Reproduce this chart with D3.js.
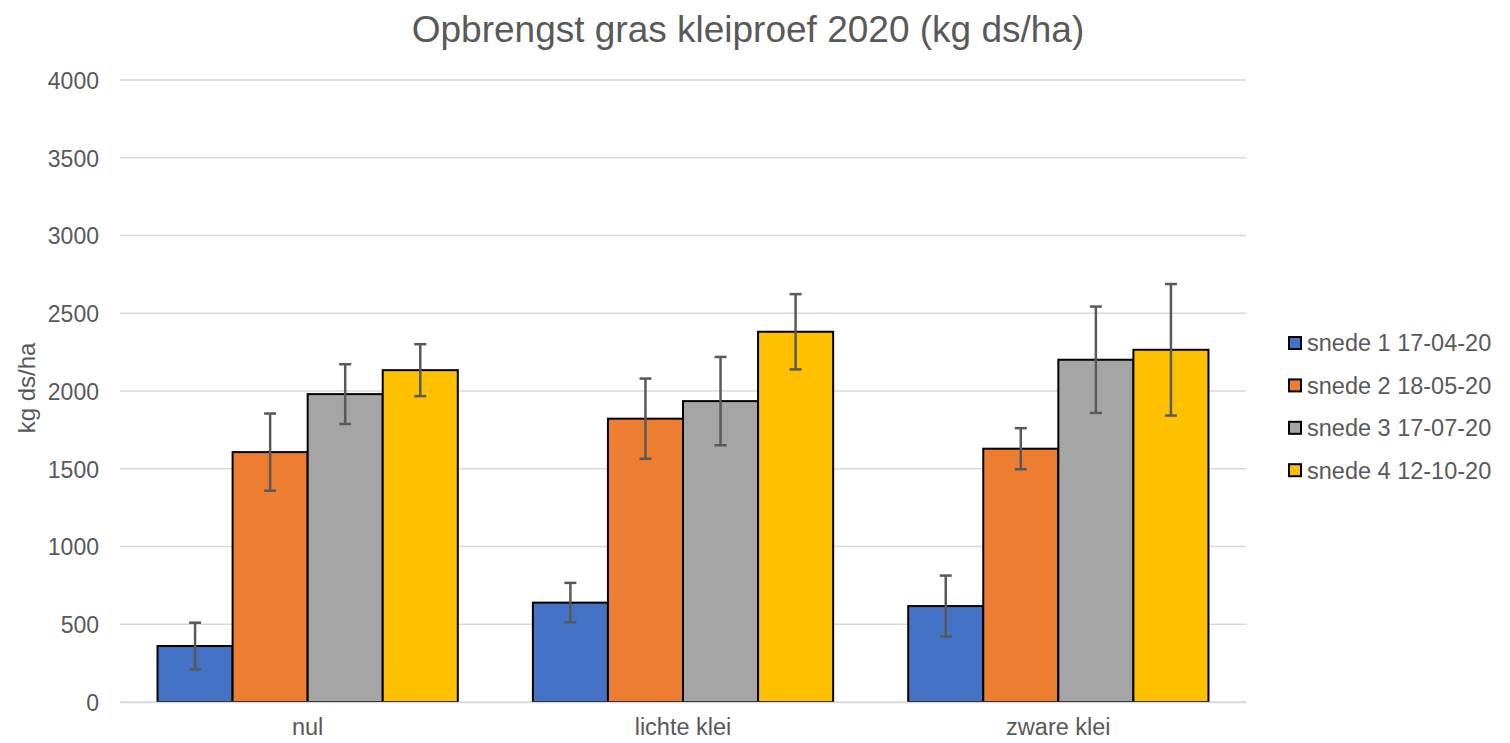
<!DOCTYPE html>
<html>
<head>
<meta charset="utf-8">
<script src="https://cdn.jsdelivr.net/npm/d3@7"></script>
<style>
  html, body { margin: 0; padding: 0; background: #fff; }
  svg { display: block; font-family: "Liberation Sans", Arial, sans-serif; }
</style>
</head>
<body>
<svg id="chart" width="1510" height="743"></svg>
<script>
const categories = ["nul", "lichte klei", "zware klei"];
const seriesNames = ["snede 1 17-04-20", "snede 2 18-05-20", "snede 3 17-07-20", "snede 4 12-10-20"];
const snede1 = [360, 639, 617];
const snede2 = [1607, 1822, 1629];
const snede3 = [1980, 1935, 2201];
const snede4 = [2134, 2381, 2265];
const err1 = [150, 127, 196];
const err2 = [248, 258, 132];
const err3 = [192, 284, 342];
const err4 = [167, 242, 423];
const yTicks = [0, 500, 1000, 1500, 2000, 2500, 3000, 3500, 4000];
const colors = ["#4472C4", "#ED7D31", "#A5A5A5", "#FFC000"];
const titleText = "Opbrengst gras kleiproef 2020 (kg ds/ha)";
const yTitle = "kg ds/ha";

(function () {
const values = [snede1, snede2, snede3, snede4];
const errors = [err1, err2, err3, err4];
const data = [];
categories.forEach((c, ci) => {
  seriesNames.forEach((s, si) => {
    data.push({cat: c, series: s, value: values[si][ci], err: errors[si][ci], color: colors[si]});
  });
});

const svg = d3.select("#chart");
const pL = 120, pR = 1246, pT = 80, pB = 702;

const x0 = d3.scaleBand().domain(categories).range([pL, pR]).paddingInner(0).paddingOuter(0);
const x1 = d3.scaleBand().domain(seriesNames).range([0, x0.bandwidth()]).paddingInner(0).paddingOuter(0.5);
const y = d3.scaleLinear().domain([0, 4000]).range([pB, pT]);

// gridlines
svg.append("g")
  .selectAll("line").data(yTicks).join("line")
  .attr("x1", pL).attr("x2", pR)
  .attr("y1", d => y(d)).attr("y2", d => y(d))
  .attr("stroke", "#D9D9D9").attr("stroke-width", 1.5);

// y axis labels
const yAxis = d3.axisLeft(y).tickValues(yTicks).tickFormat(d3.format("d")).tickSize(0).tickPadding(0);
const yg = svg.append("g").attr("transform", `translate(${pL - 21},0)`).call(yAxis);
yg.select(".domain").remove();
yg.selectAll("text").attr("fill", "#595959").attr("font-size", 23)
  .attr("font-family", "Liberation Sans, Arial, sans-serif").attr("dy", "0.36em");

// bars
svg.append("g").selectAll("rect").data(data).join("rect")
  .attr("x", d => x0(d.cat) + x1(d.series))
  .attr("y", d => y(d.value))
  .attr("width", x1.bandwidth())
  .attr("height", d => y(0) - y(d.value))
  .attr("fill", d => d.color)
  .attr("stroke", "#000").attr("stroke-width", 2);

// error bars
const eg = svg.append("g").attr("stroke", "#595959").attr("stroke-width", 2.5).attr("fill", "none");
const cx = d => x0(d.cat) + x1(d.series) + x1.bandwidth() / 2;
eg.selectAll("line.v").data(data).join("line").attr("class", "v")
  .attr("x1", cx).attr("x2", cx)
  .attr("y1", d => y(d.value + d.err)).attr("y2", d => y(d.value - d.err));
eg.selectAll("line.t").data(data).join("line").attr("class", "t")
  .attr("x1", d => cx(d) - 6).attr("x2", d => cx(d) + 6)
  .attr("y1", d => y(d.value + d.err)).attr("y2", d => y(d.value + d.err));
eg.selectAll("line.b").data(data).join("line").attr("class", "b")
  .attr("x1", d => cx(d) - 6).attr("x2", d => cx(d) + 6)
  .attr("y1", d => y(d.value - d.err)).attr("y2", d => y(d.value - d.err));

// x axis
const xAxis = d3.axisBottom(x0).tickSize(0).tickPadding(0);
const xg = svg.append("g").attr("transform", `translate(0,${pB})`).call(xAxis);
xg.select(".domain").attr("stroke", "#D9D9D9").attr("stroke-width", 1.5);
xg.selectAll("text").attr("fill", "#595959").attr("font-size", 23.5)
  .attr("font-family", "Liberation Sans, Arial, sans-serif").attr("dy", "1.4em");

// title
svg.append("text").attr("x", 748).attr("y", 42).attr("text-anchor", "middle")
  .attr("fill", "#595959").attr("font-size", 37).text(titleText);

// y title
svg.append("text").attr("transform", `translate(35,388) rotate(-90)`)
  .attr("text-anchor", "middle").attr("fill", "#595959").attr("font-size", 24).text(yTitle);

// legend
const lg = svg.append("g").selectAll("g").data(seriesNames).join("g")
  .attr("transform", (d, i) => `translate(1289,${343 + i * 42.4})`);
lg.append("rect").attr("x", 0).attr("y", -6).attr("width", 12).attr("height", 12)
  .attr("fill", (d, i) => colors[i]).attr("stroke", "#000").attr("stroke-width", 2);
lg.append("text").attr("x", 18).attr("y", 0).attr("dy", "0.36em")
  .attr("fill", "#595959").attr("font-size", 23.5).text(d => d);
})();
</script>
</body>
</html>
